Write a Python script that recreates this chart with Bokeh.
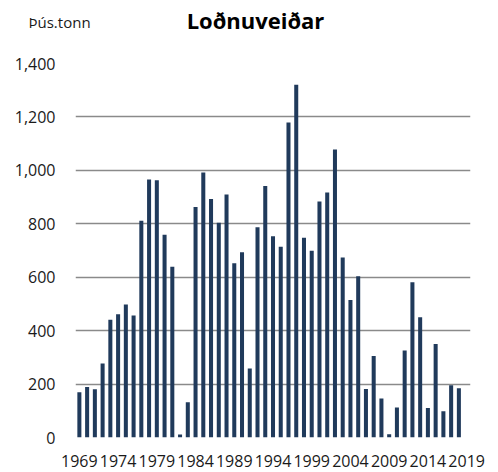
from bokeh.plotting import figure
from bokeh.models import Range1d, FixedTicker, NumeralTickFormatter, Label
from bokeh.embed import file_html
from bokeh.resources import INLINE

years = list(range(1969, 2020))
catch = [169, 189, 181, 277, 441, 461, 498, 457, 811, 966,
         963, 759, 639, 11, 132, 863, 992, 893, 804, 910,
         652, 693, 258, 787, 941, 753, 714, 1179, 1320, 748,
         699, 883, 917, 1078, 674, 515, 604, 182, 305, 146,
         12, 112, 326, 581, 450, 110, 350, 98, 196, 184,
         0]
x_tick_years = [1969, 1974, 1979, 1984, 1989, 1994, 1999, 2004, 2009, 2014, 2019]
x_tick_labels = [str(y) for y in x_tick_years]
y_ticks = [0, 200, 400, 600, 800, 1000, 1200, 1400]
title_text = "Loðnuveiðar"
unit_text = "Þús.tonn"

FONT = "Open Sans"
W = 498
HEAD_H = 48
MAIN_H = 424

# header strip holding the title and the unit text (separate root, frame = whole canvas)
head = figure(width=W, height=HEAD_H, output_backend="svg", toolbar_location=None,
              x_range=Range1d(0, W), y_range=Range1d(0, HEAD_H),
              x_axis_type=None, y_axis_type=None,
              min_border_left=0, min_border_right=0, min_border_top=0, min_border_bottom=0)
head.outline_line_color = None
head.grid.visible = False
head.add_layout(Label(x=255, y=19, x_units="canvas", y_units="canvas", text=title_text,
                      text_align="center", text_baseline="alphabetic",
                      text_font=FONT, text_font_size="22px", text_font_style="bold",
                      text_color="#000000"))
head.add_layout(Label(x=28, y=21, x_units="canvas", y_units="canvas", text=unit_text,
                      text_align="left", text_baseline="alphabetic",
                      text_font=FONT, text_font_size="15px", text_color="#1a1a1a"))

p = figure(width=W, height=MAIN_H, output_backend="svg", toolbar_location=None,
           x_range=Range1d(1968.5, 2019.5), y_range=Range1d(0, 1400),
           min_border_left=75, min_border_right=28, min_border_top=15, min_border_bottom=35)
p.outline_line_color = None

p.vbar(x=years, top=catch, width=0.52, fill_color="#203a5b", line_color=None)

p.xgrid.visible = False
p.xaxis.ticker = FixedTicker(ticks=x_tick_years)
p.xaxis.major_label_overrides = {y: t for y, t in zip(x_tick_years, x_tick_labels)}
p.xaxis.axis_line_color = None
p.xaxis.major_tick_line_color = None
p.xaxis.minor_tick_line_color = None
p.xaxis.major_tick_out = 0
p.xaxis.major_tick_in = 0
p.xaxis.major_label_standoff = 17
p.xaxis.major_label_text_font = FONT
p.xaxis.major_label_text_font_size = "16px"
p.xaxis.major_label_text_color = "#1a1a1a"

p.yaxis.ticker = FixedTicker(ticks=y_ticks)
p.yaxis.formatter = NumeralTickFormatter(format="0,0")
p.yaxis.axis_line_color = None
p.yaxis.major_tick_line_color = None
p.yaxis.minor_tick_line_color = None
p.yaxis.major_tick_out = 0
p.yaxis.major_tick_in = 0
p.yaxis.major_label_standoff = 20
p.yaxis.major_label_text_font = FONT
p.yaxis.major_label_text_font_size = "16px"
p.yaxis.major_label_text_color = "#1a1a1a"

p.ygrid.ticker = FixedTicker(ticks=y_ticks)
p.ygrid.grid_line_color = "#8a8a8a"
p.ygrid.grid_line_width = 1.3

open("out.html", "w").write(file_html([head, p], INLINE))
